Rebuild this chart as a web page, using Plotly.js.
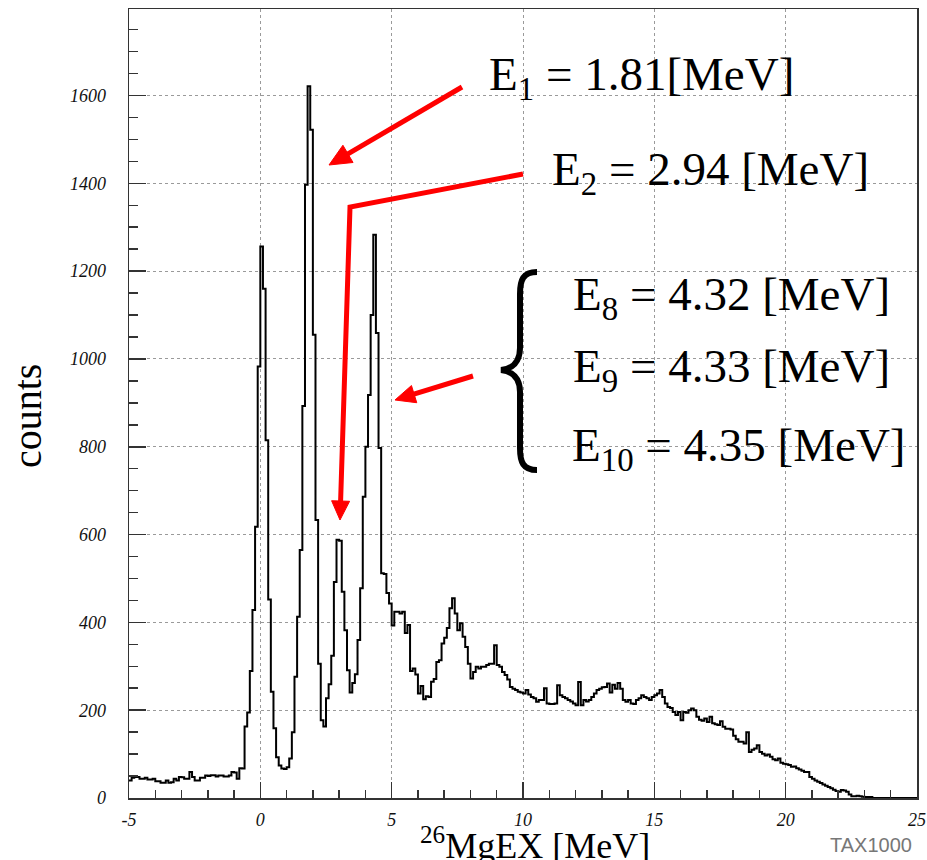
<!DOCTYPE html>
<html>
<head>
<meta charset="utf-8">
<script src="https://cdn.plot.ly/plotly-3.0.1.min.js"></script>
<style>html,body{margin:0;padding:0;background:#fff;}#chart{width:927px;height:860px;}</style>
</head>
<body>
<div id="chart"></div>
<script>
// Histogram: 300 bins of 0.1 MeV from -5 to 25 MeV (counts per bin)
const BIN_START = -5;
const BIN_WIDTH = 0.1;

// -5.0 .. -0.7 MeV
const countsBackground = [40,46,48,48,44,44,46,42,42,44,38,38,35,35,40,35,36,44,40,48,
  47,44,44,59,48,40,40,46,46,51,50,52,52,49,51,51,49,49,51,59,58,44,68,67];
// -0.6 .. 4.9 MeV (ground state, E1, E2, E8-E10 peaks)
const countsPeaks = [163,195,289,428,618,983,1256,
  1160,815,452,242,159,93,74,67,66,70,90,150,276,413,565,893,1397,
  1621,
  1522,1055,633,306,177,163,227,259,324,492,
  588,586,
  470,382,291,240,262,282,360,
  478,686,800,918,1100,1283,
  1059,797,512,510,467,443];
// 5.0 .. 9.9 MeV
const countsMid = [393,424,424,420,424,376,394,289,295,281,238,255,225,232,230,265,271,310,314,352,
  365,387,432,455,420,382,
  398,367,344,306,272,287,299,295,299,299,303,306,306,348,303,299,287,280,270,253,249,246,242,240];
// 10.0 .. 24.9 MeV
const countsHigh = [238,246,236,230,227,219,
  223,223,250,215,214,214,215,257,234,230,
  227,223,220,215,211,264,211,223,220,223,
  230,238,246,249,252,253,261,240,258,249,
  262,249,223,219,223,215,214,223,227,234,
  230,227,223,230,234,238,246,230,215,207,
  205,196,189,196,177,196,194,200,204,200,
  185,178,176,181,173,185,170,168,166,175,
  162,158,158,156,142,134,128,128,124,150,
  105,110,113,120,105,101,97,99,94,88,
  86,90,80,78,77,75,71,72,68,65,
  62,59,59,48,44,40,37,34,31,28,
  25,22,19,16,14,18,17,14,8,4,
  4,5,4,3,2,2,2,
  0,0,0,0,0,0,0,0,0,0,0,0,0,0,0,0,0];

const xTickVals = [-5,0,5,10,15,20,25];
const xTickText = ['-5','0','5','10','15','20','25'];
const yTickVals = [0,200,400,600,800,1000,1200,1400,1600];
const yTickText = ['0','200','400','600','800','1000','1200','1400','1600'];

const counts = countsBackground.concat(countsPeaks, countsMid, countsHigh);
const edges = counts.map((_, i) => BIN_START + i * BIN_WIDTH);
const xs = edges.concat([BIN_START + counts.length * BIN_WIDTH]);
const ys = counts.concat([counts[counts.length - 1]]);

const W = 927, H = 860;
const M = {l: 129, r: 10, t: 9, b: 62};
const PX = p => (p - M.l) / (W - M.l - M.r);
const PY = p => 1 - (p - M.t) / (H - M.t - M.b);
function P(x, y) { return PX(x).toFixed(5) + ',' + PY(y).toFixed(5); }

const serif = 'Liberation Serif, Times New Roman, serif';
const RED = '#ff0000';

const bracePath = 'M ' + P(537,272) + ' C ' + P(523,272) + ' ' + P(520,280) + ' ' + P(520,294) +
  ' L ' + P(520,348) + ' C ' + P(520,362) + ' ' + P(512,369) + ' ' + P(501,370) +
  ' C ' + P(512,371) + ' ' + P(520,378) + ' ' + P(520,392) +
  ' L ' + P(520,448) + ' C ' + P(520,462) + ' ' + P(523,470) + ' ' + P(537,470);

// red arrows: polyline (pixel points) ending in a filled triangular head
function arrowShapes(pts, headLen, headHalf) {
  const n = pts.length;
  const [hx, hy] = pts[n - 1];
  const [px0, py0] = pts[n - 2];
  const dx = hx - px0, dy = hy - py0, len = Math.hypot(dx, dy);
  const ux = dx / len, uy = dy / len;
  const bx = hx - ux * headLen, by = hy - uy * headLen;
  const nx = -uy, ny = ux;
  let d = 'M ' + P(pts[0][0], pts[0][1]);
  for (let i = 1; i < n - 1; i++) d += ' L ' + P(pts[i][0], pts[i][1]);
  d += ' L ' + P(bx + ux * 2, by + uy * 2);
  const head = 'M ' + P(hx, hy) + ' L ' + P(bx + nx * headHalf, by + ny * headHalf) +
    ' L ' + P(bx - nx * headHalf, by - ny * headHalf) + ' Z';
  return [
    {type:'path', xref:'paper', yref:'paper', path:d, line:{color:RED, width:5}},
    {type:'path', xref:'paper', yref:'paper', path:head, fillcolor:RED, line:{color:RED, width:1}}
  ];
}

function label(text, left, cy) {
  return {xref:'paper', yref:'paper', x: PX(left), y: PY(cy), xanchor:'left', yanchor:'middle',
    text: text, showarrow:false, font:{family: serif, size: 47, color:'#000'}};
}

const trace = {
  x: xs, y: ys, type:'scatter', mode:'lines',
  line:{shape:'hv', color:'#000', width:2},
  hoverinfo:'x+y'
};

const axisCommon = {
  showline:true, linecolor:'#333', linewidth:1.5, mirror:true,
  ticks:'inside', tickcolor:'#333', tickwidth:1.5,
  showgrid:true, gridcolor:'#9a9a9a', griddash:'dot', gridwidth:1,
  zeroline:false, fixedrange:true,
  tickfont:{family: serif, size:18, style:'italic', color:'#111'}
};

const layout = {
  width: W, height: H, margin: M,
  paper_bgcolor:'#fff', plot_bgcolor:'#fff', showlegend:false,
  xaxis: Object.assign({}, axisCommon, {
    range:[-5,25], tickmode:'array', tickvals:xTickVals, ticktext:xTickText, ticklen:16,
    ticklabelstandoff: 5,
    minor:{tickmode:'linear', tick0:-5, dtick:1, ticks:'inside', ticklen:8, tickwidth:1.5, tickcolor:'#333', showgrid:false}
  }),
  yaxis: Object.assign({}, axisCommon, {
    range:[0,1797], tickmode:'array', tickvals:yTickVals, ticktext:yTickText, ticklen:17,
    ticklabelstandoff: 18,
    minor:{tickmode:'linear', tick0:0, dtick:50, ticks:'inside', ticklen:8.5, tickwidth:1.5, tickcolor:'#333', showgrid:false}
  }),
  shapes: [
    {type:'path', xref:'paper', yref:'paper', path: bracePath, line:{color:'#000', width:6}}
  ].concat(
    arrowShapes([[462,87],[329,165]], 22, 10),
    arrowShapes([[523,174],[350,207],[340,520]], 19, 9),
    arrowShapes([[473,376],[395,400]], 20, 9)
  ),
  annotations: [
    {xref:'paper', yref:'paper', x: PX(27), y: PY(416), text:'counts', textangle:-90, showarrow:false,
     xanchor:'center', yanchor:'middle', font:{family: serif, size:40, color:'#000'}},
    {xref:'paper', yref:'paper', x: PX(535), y: PY(843), text:'<sup>26</sup>MgEX [MeV]', showarrow:false,
     xanchor:'center', yanchor:'middle', font:{family: serif, size:36, color:'#000'}},
    {xref:'paper', yref:'paper', x: PX(871), y: PY(845), text:'TAX1000', showarrow:false,
     xanchor:'center', yanchor:'middle', font:{family:'Liberation Sans, Arial, sans-serif', size:20, color:'#777'}},
    label('E<sub>1</sub> = 1.81[MeV]', 487, 78),
    label('E<sub>2</sub> = 2.94 [MeV]', 550, 173),
    label('E<sub>8</sub> = 4.32 [MeV]', 571, 297),
    label('E<sub>9</sub> = 4.33 [MeV]', 571, 370),
    label('E<sub>10</sub> = 4.35 [MeV]', 570, 448)
  ]
};

Plotly.newPlot('chart', [trace], layout, {staticPlot:true, displayModeBar:false});
</script>
</body>
</html>
